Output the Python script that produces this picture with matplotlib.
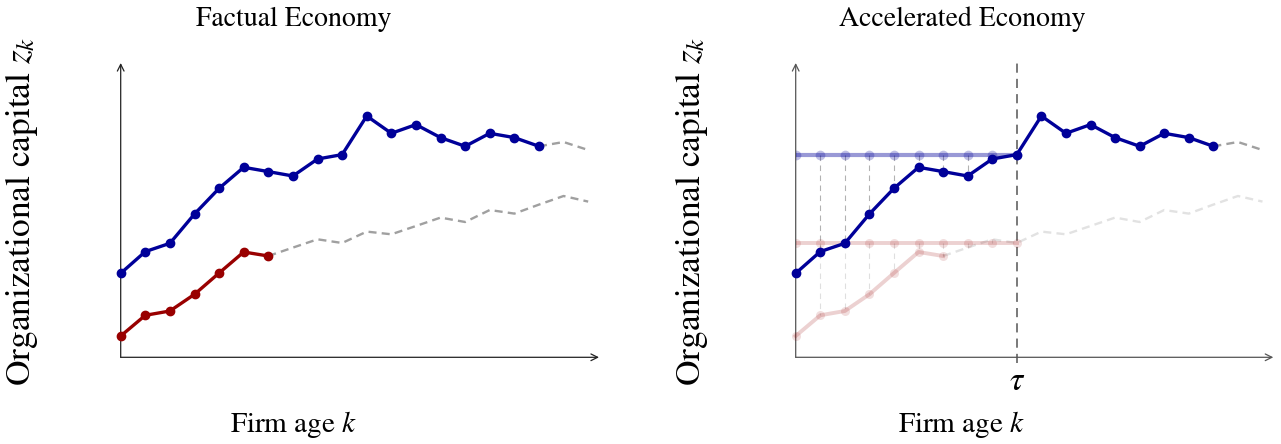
import numpy as np
import matplotlib.pyplot as plt

plt.rcParams['font.family'] = 'STIXGeneral'
plt.rcParams['mathtext.fontset'] = 'stix'

# --- data (arbitrary units) ---
age = np.arange(20)
# large firm path: observed up to age 17, projected after
big_z = [84, 105.7, 114, 143.3, 169, 190, 185.7, 181.3, 198.3, 202.7,
         241.3, 224, 232.7, 219.7, 211, 224, 219.7, 211, 215.3, 207.3]
# small firm path: observed up to age 6, projected after
small_z = [21.3, 42, 46.3, 63, 84.3, 105.3, 101.3, 109.7, 118, 114.3,
           125.7, 123, 131.3, 139.7, 135.3, 147.3, 143.7, 152.7, 161.3, 155.7]
big_obs = 18
small_obs = 7
tau = 9

titles = ['Factual Economy', 'Accelerated Economy']
xlab = r'Firm age $k$'
ylab = r'Organizational capital $z_k$'

BLUE = '#000099'
RED = '#990000'
GREY = '#a0a0a0'
DASH = (0, (3.4, 2.2))

W, H = 1281, 444
fig = plt.figure(figsize=(W / 100, H / 100), dpi=100)

xmax, ymax = 19.44, 294.3
ax1 = fig.add_axes([120.7 / W, (H - 357.3) / H, 478.3 / W, ymax / H])
ax2 = fig.add_axes([795.7 / W, (H - 357.3) / H, 477.6 / W, ymax / H])


def base_axes(ax, col):
    ax.set_xlim(0, xmax)
    ax.set_ylim(0, ymax)
    ax.axis('off')
    arr = dict(arrowstyle='->', lw=0.9, color=col, shrinkA=0, shrinkB=0,
               mutation_scale=12)
    ax.annotate('', xy=(xmax, 0), xytext=(0, 0), arrowprops=arr, annotation_clip=False)
    ax.annotate('', xy=(0, ymax), xytext=(0, 0), arrowprops=arr, annotation_clip=False)


def paths(ax, fade_small=False):
    ax.plot(age[big_obs - 1:], big_z[big_obs - 1:], color=GREY, lw=1.7, ls=DASH,
            zorder=3, clip_on=False)
    ax.plot(age[:big_obs], big_z[:big_obs], color=BLUE, lw=2.4, marker='o', ms=6,
            zorder=6, clip_on=False)
    ax.plot(age[small_obs - 1:], small_z[small_obs - 1:], color=GREY,
            alpha=0.3 if fade_small else 1.0, lw=1.7, ls=DASH, zorder=2, clip_on=False)
    if fade_small:
        ax.plot(age[:small_obs], small_z[:small_obs], color=RED, alpha=0.18, lw=2.8,
                zorder=4, clip_on=False)
        ax.plot(age[:small_obs], small_z[:small_obs], ls='none', color=RED,
                alpha=0.13, marker='o', ms=6.5, mew=0, zorder=4, clip_on=False)
    else:
        ax.plot(age[:small_obs], small_z[:small_obs], color=RED, lw=2.4,
                marker='o', ms=6, zorder=4, clip_on=False)


# --- left: factual ---
base_axes(ax1, '#222222')
paths(ax1)

# --- right: accelerated ---
base_axes(ax2, '#555555')
paths(ax2, fade_small=True)

big_tau = big_z[tau]
small_tau = small_z[tau]
ax2.plot(age[:tau + 1], [big_tau] * (tau + 1), color=BLUE, alpha=0.4, lw=3,
         zorder=5)
ax2.plot(age[:tau + 1], [big_tau] * (tau + 1), ls='none', color=BLUE, alpha=0.25,
         marker='o', ms=7, mew=0, zorder=5)
ax2.plot(age[:tau + 1], [small_tau] * (tau + 1), color=RED, alpha=0.18, lw=2.8,
         zorder=3)
ax2.plot(age[:tau + 1], [small_tau] * (tau + 1), ls='none', color=RED, alpha=0.13,
         marker='o', ms=6.5, mew=0, zorder=3)
ax2.vlines(age[1:tau], [big_tau] * (tau - 1), big_z[1:tau], colors='gray',
           lw=0.8, linestyles=(0, (5, 4)), alpha=0.6, zorder=1)
ax2.vlines(age[1:tau], [small_tau] * (tau - 1), small_z[1:tau], colors='gray',
           lw=0.8, linestyles=(0, (5, 4)), alpha=0.25, zorder=1)
ax2.plot([tau, tau], [-6, ymax], color='#555555', lw=1.1, ls=(0, (6, 4)),
         zorder=1, clip_on=False)
ax2.text(tau, -25, r'$\tau$', ha='center', va='center', fontsize=24)

# --- titles and labels ---
for cx, lx, t in [(294, 30, titles[0]), (962, 700, titles[1])]:
    fig.text(cx / W, 1 - 26 / H, t, ha='center', va='baseline', fontsize=20)
    fig.text(cx / W, 1 - 432 / H, xlab, ha='center', va='baseline', fontsize=21)
    fig.text(lx / W, 1 - 211.5 / H, ylab, ha='center', va='baseline', fontsize=25.5,
             rotation=90, rotation_mode='anchor')

fig.savefig('out.png', dpi=100)
